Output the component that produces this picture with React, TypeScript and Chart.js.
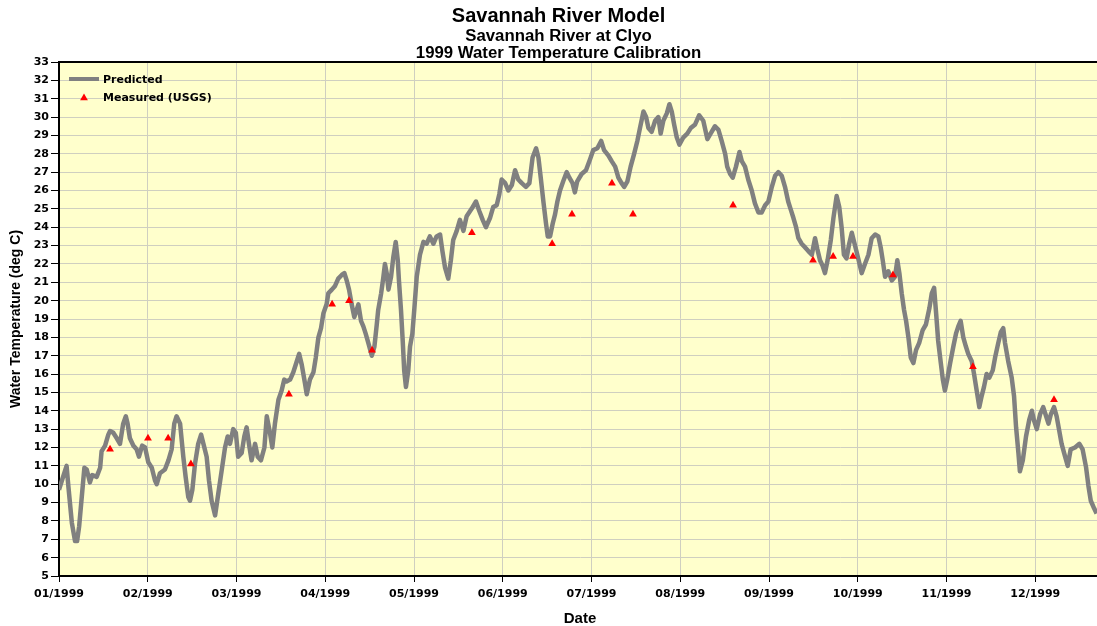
import React, { useEffect, useRef } from 'react';
import { Chart, registerables } from 'chart.js';

Chart.register(...registerables);

const TITLE = 'Savannah River Model';
const SUBTITLES = ['Savannah River at Clyo', '1999 Water Temperature Calibration'];
const Y_TITLE = 'Water Temperature (deg C)';
const X_TITLE = 'Date';
const PRED_LABEL = 'Predicted';
const MEAS_LABEL = 'Measured (USGS)';

const MONTH_LABELS = ['01/1999', '02/1999', '03/1999', '04/1999', '05/1999', '06/1999', '07/1999', '08/1999', '09/1999', '10/1999', '11/1999', '12/1999'];
const MONTH_TICK_DAYS = [0, 30.42, 60.83, 91.25, 121.67, 152.08, 182.5, 212.92, 243.33, 273.75, 304.17, 334.58];

const PRED_DAYS = [
  0.0, 1.0, 2.6, 3.2, 4.4, 5.5, 6.2, 6.9, 7.8, 8.7, 9.5, 10.6, 11.4, 12.9, 14.1, 14.6, 15.8, 16.9, 17.5, 18.6,
  19.8, 20.9, 22.0, 22.9, 23.5, 24.3, 25.5, 26.6, 27.4, 28.5, 29.5, 30.6, 31.8, 32.9, 33.5, 34.6, 36.3, 37.5, 38.6, 39.5,
  40.3, 41.5, 42.6, 43.4, 44.3, 44.9, 45.7, 46.6, 47.7, 48.7, 49.5, 50.6, 51.4, 52.3, 53.5, 54.6, 55.8, 56.9, 57.8, 58.6,
  59.7, 60.6, 61.4, 62.6, 63.5, 64.3, 65.1, 66.0, 67.2, 68.1, 69.2, 70.4, 71.2, 72.3, 73.1, 74.0, 75.2, 76.3, 77.2, 78.0,
  79.2, 80.3, 81.5, 82.3, 83.2, 84.3, 84.9, 86.0, 87.2, 88.0, 88.9, 89.8, 90.6, 91.7, 92.3, 93.5, 94.6, 95.7, 96.9, 97.8,
  98.6, 99.4, 100.3, 101.2, 102.0, 102.6, 103.5, 104.3, 105.1, 106.0, 107.2, 108.1, 108.9, 109.4, 110.4, 111.1, 111.7, 112.3, 112.9, 113.8,
  114.6, 115.4, 116.1, 116.5, 117.2, 117.8, 118.3, 118.9, 119.7, 120.3, 121.1, 121.8, 122.6, 123.7, 124.9, 126.0, 127.1, 128.3, 129.4, 130.6,
  131.4, 132.3, 133.4, 134.3, 135.1, 136.3, 137.4, 138.6, 139.7, 141.4, 142.9, 144.0, 145.2, 146.3, 147.7, 148.8, 150.0, 150.9, 151.7, 152.9,
  154.0, 155.2, 156.3, 157.4, 158.6, 160.0, 161.2, 162.3, 163.5, 164.3, 165.1, 166.0, 166.9, 167.5, 168.3, 169.2, 170.0, 170.8, 171.7, 172.8,
  174.0, 174.9, 176.0, 176.8, 177.6, 179.1, 180.6, 182.0, 183.1, 184.5, 185.8, 186.8, 188.3, 189.4, 190.6, 191.7, 192.8, 193.7, 194.8, 195.9,
  197.1, 198.2, 199.1, 200.3, 201.2, 202.0, 203.1, 204.3, 205.4, 206.2, 207.1, 208.3, 209.2, 210.0, 210.8, 211.7, 212.6, 214.0, 215.3, 216.5,
  218.0, 219.4, 220.8, 222.2, 223.3, 224.8, 226.0, 227.1, 228.3, 229.0, 230.0, 230.9, 232.0, 233.2, 234.0, 235.1, 236.2, 237.4, 238.5, 239.7,
  240.8, 242.0, 243.1, 244.3, 245.4, 246.5, 247.7, 248.8, 249.9, 250.9, 251.7, 252.6, 253.4, 254.5, 255.7, 256.8, 258.0, 259.1, 259.9, 260.8,
  261.7, 262.5, 263.4, 264.5, 265.4, 266.5, 267.4, 268.2, 269.0, 269.9, 270.8, 271.7, 272.8, 273.9, 275.1, 276.2, 277.4, 278.5, 279.7, 280.8,
  281.6, 282.3, 283.1, 284.2, 285.4, 286.5, 287.3, 288.0, 288.8, 289.6, 290.3, 291.1, 291.9, 292.8, 293.7, 294.8, 296.0, 297.1, 298.3, 299.1,
  299.9, 300.6, 301.3, 302.2, 302.9, 303.6, 304.4, 305.4, 306.5, 307.4, 308.2, 309.0, 309.9, 310.8, 311.6, 312.8, 313.6, 314.5, 315.4, 316.2,
  317.0, 317.9, 318.8, 320.0, 320.8, 321.9, 322.8, 323.6, 324.2, 325.3, 326.5, 327.3, 328.0, 328.8, 329.3, 330.3, 331.4, 332.5, 333.4, 334.1,
  335.1, 336.2, 337.3, 338.3, 339.1, 339.9, 341.0, 341.9, 342.8, 343.6, 344.8, 345.7, 346.7, 348.2, 349.7, 350.8, 352.0, 352.8, 353.6, 354.7,
  355.6,
];

const PRED_TEMPS = [
  9.7, 10.2, 11.0, 9.9, 7.9, 6.9, 6.9, 7.7, 9.3, 10.9, 10.8, 10.1, 10.5, 10.4, 10.9, 11.8, 12.1, 12.7, 12.9, 12.8,
  12.5, 12.2, 13.3, 13.7, 13.3, 12.5, 12.1, 11.9, 11.5, 12.1, 12.0, 11.2, 10.9, 10.2, 10.0, 10.6, 10.8, 11.3, 11.9, 13.3,
  13.7, 13.3, 11.5, 10.4, 9.3, 9.1, 9.7, 11.1, 12.2, 12.7, 12.2, 11.5, 10.2, 9.1, 8.3, 9.5, 10.8, 12.0, 12.6, 12.2,
  13.0, 12.8, 11.5, 11.7, 12.6, 13.1, 12.2, 11.3, 12.2, 11.5, 11.3, 12.0, 13.7, 12.8, 12.0, 13.3, 14.6, 15.1, 15.7, 15.6,
  15.7, 16.1, 16.7, 17.1, 16.5, 15.5, 14.9, 15.7, 16.1, 16.9, 18.0, 18.5, 19.3, 19.8, 20.4, 20.6, 20.8, 21.2, 21.4, 21.5,
  21.1, 20.6, 19.8, 19.1, 19.5, 19.8, 18.9, 18.6, 18.2, 17.7, 17.0, 17.5, 18.7, 19.5, 20.4, 21.2, 22.0, 21.5, 20.6, 21.3,
  22.4, 23.2, 22.2, 21.1, 19.5, 17.8, 16.2, 15.3, 16.2, 17.5, 18.2, 19.6, 21.3, 22.5, 23.2, 23.1, 23.5, 23.1, 23.5, 23.6,
  22.7, 21.8, 21.2, 22.2, 23.3, 23.8, 24.4, 23.8, 24.6, 25.0, 25.4, 24.9, 24.4, 24.0, 24.5, 25.1, 25.2, 25.8, 26.6, 26.4,
  26.0, 26.3, 27.1, 26.6, 26.4, 26.2, 26.4, 27.8, 28.3, 27.8, 26.7, 25.4, 24.2, 23.5, 23.5, 24.2, 24.7, 25.4, 26.0, 26.5,
  27.0, 26.7, 26.4, 25.9, 26.5, 26.9, 27.1, 27.7, 28.2, 28.3, 28.7, 28.2, 27.9, 27.6, 27.3, 26.7, 26.4, 26.2, 26.5, 27.3,
  28.0, 28.7, 29.4, 30.3, 30.0, 29.4, 29.2, 29.8, 30.0, 29.1, 29.8, 30.2, 30.7, 30.3, 29.6, 28.9, 28.5, 28.9, 29.1, 29.4,
  29.6, 30.1, 29.8, 28.8, 29.1, 29.5, 29.3, 28.7, 28.0, 27.3, 26.9, 26.7, 27.3, 28.1, 27.6, 27.3, 26.6, 26.0, 25.3, 24.8,
  24.8, 25.2, 25.4, 26.2, 26.8, 27.0, 26.8, 26.2, 25.4, 24.9, 24.5, 24.0, 23.4, 23.1, 22.9, 22.7, 22.5, 23.4, 22.8, 22.2,
  21.9, 21.5, 22.2, 23.3, 24.5, 25.7, 25.1, 24.0, 22.5, 22.3, 23.1, 23.7, 23.0, 22.3, 21.5, 22.0, 22.5, 23.4, 23.6, 23.5,
  22.9, 22.2, 21.3, 21.6, 21.1, 21.3, 22.2, 21.5, 20.4, 19.5, 18.9, 18.0, 16.9, 16.6, 17.3, 17.7, 18.4, 18.7, 19.6, 20.4,
  20.7, 19.3, 17.8, 16.6, 15.7, 15.1, 15.7, 16.6, 17.5, 18.2, 18.6, 18.9, 18.0, 17.5, 17.1, 16.7, 16.0, 15.1, 14.2, 14.8,
  15.3, 16.0, 15.8, 16.2, 16.9, 17.7, 18.3, 18.5, 17.7, 16.7, 15.8, 14.8, 13.1, 11.7, 10.7, 11.3, 12.6, 13.5, 14.0, 13.5,
  13.0, 13.8, 14.2, 13.7, 13.3, 13.8, 14.2, 13.7, 12.9, 12.2, 11.5, 11.0, 11.9, 12.0, 12.2, 11.9, 10.9, 9.9, 9.1, 8.7,
  8.4,
];

const MEAS_DAYS = [17.5, 30.5, 37.4, 45.2, 78.8, 93.6, 99.4, 107.3, 141.5, 169.0, 175.8, 189.5, 196.7, 231.0, 258.4, 265.3, 272.1, 285.8, 313.2, 341.0];
const MEAS_TEMPS = [11.9, 12.5, 12.5, 11.1, 14.9, 19.8, 20.0, 17.3, 23.7, 23.1, 24.7, 26.4, 24.7, 25.2, 22.2, 22.4, 22.4, 21.4, 16.4, 14.6];

const PLOT_BG = '#FFFFCC';
const GRID = '#CFCFC0';
const LINE_GRAY = '#808080';
const MARK_RED = '#FF0000';
const TICK_FONT = { family: '"DejaVu Sans", Verdana, sans-serif', weight: 'bold' as const, size: 11 };
const ARIAL = 'Liberation Sans, Arial, sans-serif';

const plotPlugin = {
  id: 'plotFrame',
  beforeDraw(chart: any) {
    const { ctx, chartArea: a } = chart;
    ctx.save();
    ctx.fillStyle = PLOT_BG;
    ctx.fillRect(a.left, a.top, a.right - a.left, a.bottom - a.top);
    ctx.restore();
  },
  afterDraw(chart: any) {
    const { ctx, chartArea: a } = chart;
    ctx.save();
    ctx.strokeStyle = '#000';
    ctx.lineWidth = 2;
    ctx.beginPath();
    ctx.moveTo(a.left, a.top);
    ctx.lineTo(a.right, a.top);
    ctx.stroke();

    // legend inside plot area
    const ds = chart.data.datasets;
    const x0 = a.left + 10;
    const textX = a.left + 44;
    ctx.font = 'bold 11px "DejaVu Sans", Verdana, sans-serif';
    ctx.textBaseline = 'middle';
    ctx.textAlign = 'left';
    // predicted
    const y1 = a.top + 17;
    ctx.strokeStyle = ds[0].borderColor;
    ctx.lineWidth = 4;
    ctx.beginPath();
    ctx.moveTo(x0, y1);
    ctx.lineTo(x0 + 30, y1);
    ctx.stroke();
    ctx.fillStyle = '#000';
    ctx.fillText(ds[0].label, textX, y1 + 1);
    // measured
    const y2 = a.top + 36;
    const cx = x0 + 15;
    const r = 4.5;
    const side = (r * 3) / Math.sqrt(3);
    const h = (side * Math.sqrt(3)) / 2;
    ctx.fillStyle = ds[1].backgroundColor;
    ctx.beginPath();
    ctx.moveTo(cx - side / 2, y2 + h / 3);
    ctx.lineTo(cx + side / 2, y2 + h / 3);
    ctx.lineTo(cx, y2 - (2 * h) / 3);
    ctx.closePath();
    ctx.fill();
    ctx.fillStyle = '#000';
    ctx.fillText(ds[1].label, textX, y2);
    ctx.restore();
  },
};

export default function App() {
  const canvasRef = useRef<HTMLCanvasElement | null>(null);

  useEffect(() => {
    if (!canvasRef.current) return;
    const predicted = PRED_DAYS.map((d, i) => ({ x: d, y: PRED_TEMPS[i] }));
    const measured = MEAS_DAYS.map((d, i) => ({ x: d, y: MEAS_TEMPS[i] }));

    const chart = new Chart(canvasRef.current, {
      type: 'line',
      data: {
        datasets: [
          {
            label: PRED_LABEL,
            data: predicted,
            borderColor: LINE_GRAY,
            backgroundColor: LINE_GRAY,
            borderWidth: 4.5,
            pointRadius: 0,
            tension: 0,
            borderJoinStyle: 'round',
            order: 2,
          },
          {
            label: MEAS_LABEL,
            data: measured,
            showLine: false,
            pointStyle: 'triangle',
            pointRadius: 4.5,
            borderWidth: 0,
            backgroundColor: MARK_RED,
            borderColor: MARK_RED,
            order: 1,
          },
        ],
      },
      options: {
        responsive: true,
        maintainAspectRatio: false,
        animation: false,
        layout: { autoPadding: false, padding: { left: 0, right: 0, top: 0, bottom: 0 } },
        plugins: {
          legend: { display: false },
          tooltip: { enabled: false },
          title: {
            display: true,
            text: TITLE,
            color: '#000',
            font: { family: ARIAL, weight: 'bold', size: 20, lineHeight: 1.1 },
            padding: { top: 5, bottom: 0 },
          },
          subtitle: {
            display: true,
            text: SUBTITLES,
            color: '#000',
            font: { family: ARIAL, weight: 'bold', size: 16.8, lineHeight: 17 / 16.8 },
            padding: { top: 1, bottom: 0 },
          },
        },
        scales: {
          x: {
            type: 'linear',
            min: 0,
            max: 357.1,
            afterBuildTicks: (s: any) => {
              s.ticks = MONTH_TICK_DAYS.map((v) => ({ value: v }));
            },
            afterFit: (s: any) => {
              s.height = 50;
            },
            ticks: {
              autoSkip: false,
              maxRotation: 0,
              padding: 6,
              color: '#000',
              font: TICK_FONT,
              callback: (_v: any, i: number) => MONTH_LABELS[i],
            },
            grid: { color: GRID, tickColor: '#000', tickLength: 6, lineWidth: 1 },
            border: { color: '#000', width: 2 },
            title: {
              display: true,
              text: X_TITLE,
              color: '#000',
              font: { family: ARIAL, weight: 'bold', size: 15, lineHeight: 1.0 },
              padding: { top: 0, bottom: 0 },
            },
          },
          y: {
            min: 5,
            max: 33,
            afterFit: (s: any) => {
              s.width = 59;
            },
            ticks: { stepSize: 1, padding: 2, color: '#000', font: TICK_FONT },
            grid: { color: GRID, tickColor: '#000', tickLength: 8, lineWidth: 1 },
            border: { color: '#000', width: 2 },
            title: {
              display: true,
              text: Y_TITLE,
              color: '#000',
              font: { family: ARIAL, weight: 'bold', size: 14, lineHeight: 1.2 },
              padding: { top: 8, bottom: 0 },
            },
          },
          yRight: {
            position: 'right',
            min: 5,
            max: 33,
            grid: { display: false, drawTicks: false },
            border: { display: false },
            ticks: { display: false },
            afterFit: (s: any) => {
              s.width = 16;
            },
          },
        },
      },
      plugins: [plotPlugin],
    });
    return () => chart.destroy();
  }, []);

  return (
    <div style={{ position: 'absolute', left: 0, top: 0, width: 1097, height: 626, overflow: 'hidden' }}>
      <div style={{ position: 'relative', width: 1117, height: 626 }}>
        <canvas ref={canvasRef} />
      </div>
    </div>
  );
}
